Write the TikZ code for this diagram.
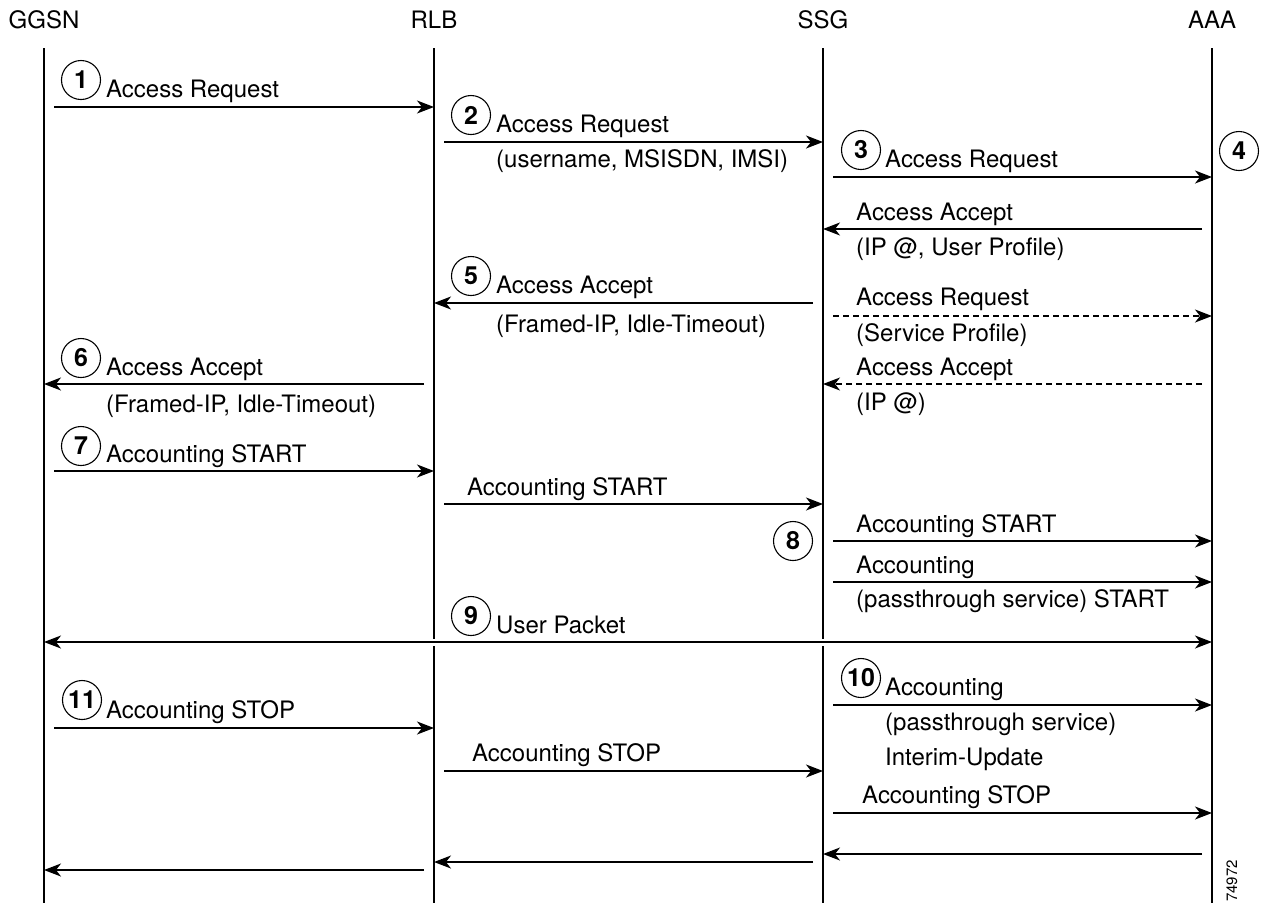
\documentclass[tikz,border=0pt]{standalone}
\usepackage{fontspec}
\setmainfont{TeX Gyre Heros}
\usetikzlibrary{arrows.meta}
\begin{document}
\begin{tikzpicture}[x=1pt,y=-1pt,
  every node/.style={font=\fontsize{24}{27}\selectfont},
  head/.style={anchor=base, inner sep=0pt},
  lifeline/.style={line width=1.2pt},
  msg/.style={line width=1.3pt, shorten <=10pt,
    -{Stealth[length=17pt,width=13pt,inset=5pt]}},
  dmsg/.style={msg, dash pattern=on 6pt off 4pt},
  both/.style={line width=1.3pt,
    {Stealth[length=17pt,width=13pt,inset=5pt]}-{Stealth[length=17pt,width=13pt,inset=5pt]}},
  lbl/.style={anchor=base west, inner sep=0pt},
  stepnum/.style={draw, circle, line width=1.1pt, minimum size=39pt,
    inner sep=0pt, font=\fontsize{25}{27}\selectfont\bfseries},
]
\useasboundingbox (0,0) rectangle (1269,903);

% participants
\node[head] (ggsn) at (44,28)   {GGSN};
\node[head] (rlb)  at (434,28)  {RLB};
\node[head] (ssg)  at (823,28)  {SSG};
\node[head] (aaa)  at (1212,28) {AAA};

% lifelines
\foreach \p in {ggsn,rlb,ssg,aaa}
  \draw[lifeline] (\p |- 0,48) -- (\p |- 0,903);

% step 1
\node[stepnum] (s1) at (81,80) {1};
\node[lbl] at (106,97) {Access Request};
\draw[msg] (ggsn |- 0,107) -- (rlb |- 0,107);

% step 2
\node[stepnum] (s2) at (471,115) {2};
\node[lbl] at (496,132) {Access Request};
\node[lbl] at (496,167) {(username, MSISDN, IMSI)};
\draw[msg] (rlb |- 0,142) -- (ssg |- 0,142);

% step 3 and 4
\node[stepnum] (s3) at (861,150) {3};
\node[lbl] at (885,167) {Access Request};
\draw[msg] (ssg |- 0,177) -- (aaa |- 0,177);
\node[stepnum] (s4) at (1239,151) {4};

\node[lbl] at (856,220) {Access Accept};
\node[lbl] at (856,255) {(IP @, User Profile)};
\draw[msg] (aaa |- 0,229) -- (ssg |- 0,229);

\node[lbl] at (856,305) {Access Request};
\node[lbl] at (856,341) {(Service Profile)};
\draw[dmsg] (ssg |- 0,316) -- (aaa |- 0,316);

\node[lbl] at (856,375) {Access Accept};
\node[lbl] at (856,410) {(IP @)};
\draw[dmsg] (aaa |- 0,384) -- (ssg |- 0,384);

% step 5
\node[stepnum] (s5) at (471,276) {5};
\node[lbl] at (496,293) {Access Accept};
\node[lbl] at (496,332) {(Framed-IP, Idle-Timeout)};
\draw[msg] (ssg |- 0,303) -- (rlb |- 0,303);

% step 6
\node[stepnum] (s6) at (81,358) {6};
\node[lbl] at (106,375) {Access Accept};
\node[lbl] at (106,412) {(Framed-IP, Idle-Timeout)};
\draw[msg] (rlb |- 0,384) -- (ggsn |- 0,384);

% step 7
\node[stepnum] (s7) at (81,446) {7};
\node[lbl] at (106,462) {Accounting START};
\draw[msg] (ggsn |- 0,471) -- (rlb |- 0,471);

\node[lbl] at (467,495) {Accounting START};
\draw[msg] (rlb |- 0,504) -- (ssg |- 0,504);

% step 8
\node[stepnum] (s8) at (793,541) {8};
\node[lbl] at (856,532) {Accounting START};
\draw[msg] (ssg |- 0,541) -- (aaa |- 0,541);
\node[lbl] at (856,573) {Accounting};
\node[lbl] at (856,607) {(passthrough service) START};
\draw[msg] (ssg |- 0,582) -- (aaa |- 0,582);

% step 9
\node[stepnum] (s9) at (471,616) {9};
\node[lbl] at (496,633) {User Packet};
\foreach \p in {rlb,ssg}
  \draw[white, line width=3pt] (\p |- 0,638.5) -- (\p |- 0,645.5);
\draw[both] (ggsn |- 0,642) -- (aaa |- 0,642);

% step 10
\node[stepnum] (s10) at (861,678) {10};
\node[lbl] at (885,695) {Accounting};
\draw[msg] (ssg |- 0,705) -- (aaa |- 0,705);
\node[lbl] at (885,730) {(passthrough service)};
\node[lbl] at (885,765) {Interim-Update};

\node[lbl] at (862,803) {Accounting STOP};
\draw[msg] (ssg |- 0,813) -- (aaa |- 0,813);

% step 11
\node[stepnum] (s11) at (82,700) {11};
\node[lbl] at (106,718) {Accounting STOP};
\draw[msg] (ggsn |- 0,728) -- (rlb |- 0,728);

\node[lbl] at (472,761) {Accounting STOP};
\draw[msg] (rlb |- 0,771) -- (ssg |- 0,771);

% final replies
\draw[msg] (aaa |- 0,854) -- (ssg |- 0,854);
\draw[msg] (ssg |- 0,862) -- (rlb |- 0,862);
\draw[msg] (rlb |- 0,870) -- (ggsn |- 0,870);

% figure number
\node[rotate=90, inner sep=0pt, font=\fontsize{15}{17}\selectfont] (fig) at (1232,881) {74972};
\end{tikzpicture}
\end{document}
